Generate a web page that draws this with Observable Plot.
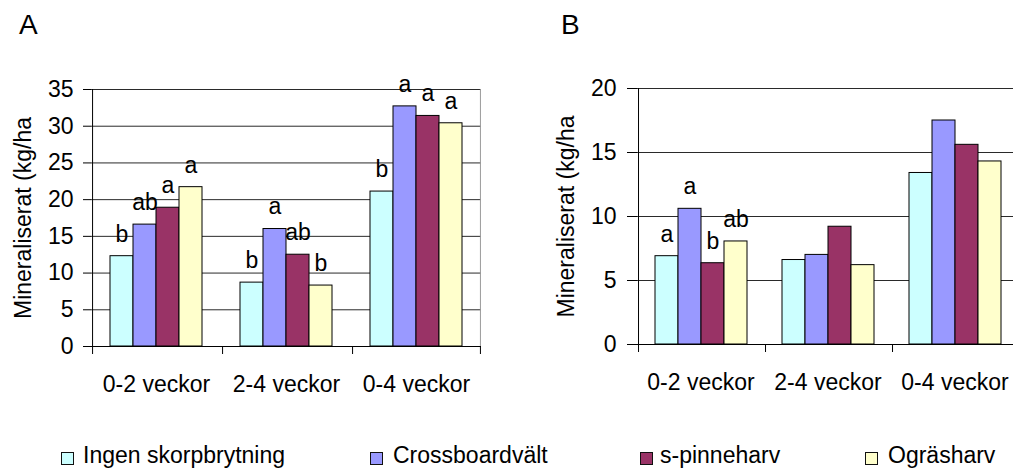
<!DOCTYPE html>
<html>
<head>
<meta charset="utf-8">
<script src="https://cdn.jsdelivr.net/npm/d3@7"></script>
<script src="https://cdn.jsdelivr.net/npm/@observablehq/plot@0.6"></script>
<style>
  html, body { margin: 0; padding: 0; background: #fff; }
  body { width: 1013px; height: 470px; overflow: hidden; position: relative;
         font-family: 'Liberation Sans', Arial, sans-serif; }
  .panel { position: absolute; top: 0; }
  .panel svg { max-width: none !important; display: block; }
  .ptitle { position: relative; height: 44px; }
  .ptitle span { position: absolute; top: 11px; font-size: 28px; line-height: 28px; color: #000; }
  .legend { position: absolute; top: 0; left: 0; width: 1013px; height: 470px; pointer-events: none; }
  .legend .box { position: absolute; top: 452px; width: 11px; height: 11px; border: 1.5px solid #111; }
  .legend .lab { position: absolute; top: 444px; font-size: 23px; line-height: 23px; color: #000; white-space: nowrap; }
</style>
</head>
<body>
<div id="panelA" class="panel" style="left:0px; width:500px"><div class="ptitle"><span style="left:19px">A</span></div></div>
<div id="panelB" class="panel" style="left:500px; width:530px"><div class="ptitle"><span style="left:61px">B</span></div></div>
<div id="legend" class="legend"></div>
<script>
// ---- data ----
const periods = ["0-2 veckor", "2-4 veckor", "0-4 veckor"];
const treatments = ["Ingen skorpbrytning", "Crossboardvält", "s-pinneharv", "Ogräsharv"];
const colors = ["#CCFFFF", "#9999FF", "#993366", "#FFFFCC"];
const yLabel = "Mineraliserat (kg/ha";

const valuesA = [
  [12.3, 16.6, 18.9, 21.7],
  [8.7, 16.0, 12.5, 8.3],
  [21.1, 32.7, 31.4, 30.4]
];
const lettersA = [
  ["b", "ab", "a", "a"],
  ["b", "a", "ab", "b"],
  ["b", "a", "a", "a"]
];
const ticksA = [0, 5, 10, 15, 20, 25, 30, 35];

const valuesB = [
  [6.9, 10.6, 6.35, 8.05],
  [6.6, 7.0, 9.2, 6.2],
  [13.4, 17.5, 15.6, 14.3]
];
const lettersB = [
  ["a", "a", "b", "ab"],
  ["", "", "", ""],
  ["", "", "", ""]
];
const ticksB = [0, 5, 10, 15, 20];

function rowsOf(values, letters) {
  const rows = [];
  periods.forEach((p, i) => treatments.forEach((t, j) => {
    rows.push({period: p, treatment: t, value: values[i][j], letter: letters[i][j]});
  }));
  return rows;
}

function makePanel(cfg) {
  const rows = rowsOf(cfg.values, cfg.letters);
  const ymax = cfg.ticks[cfg.ticks.length - 1];
  const plotH = cfg.height - cfg.mt - cfg.mb;
  const fw = (cfg.width - cfg.ml - cfg.mr) / periods.length;
  const step = fw / (treatments.length + 2 * cfg.po);
  const edge = step * (0.5 + cfg.po);        // band centre -> facet edge (px)
  const tickLen = cfg.tickLenPx * ymax / plotH; // boundary tick length in data units
  const first = [{period: periods[0]}];
  const last = [{period: periods[periods.length - 1]}];
  const all = periods.map(p => ({period: p}));
  return Plot.plot({
    width: cfg.width,
    height: cfg.height,
    marginLeft: cfg.ml,
    marginRight: cfg.mr,
    marginTop: cfg.mt,
    marginBottom: cfg.mb,
    style: {fontFamily: "'Liberation Sans', Arial, sans-serif", fontSize: "23px", color: "#000", background: "transparent", overflow: "visible", maxWidth: "none"},
    fx: {domain: periods, padding: 0, axis: "bottom", tickSize: 0, tickPadding: 29, label: null},
    x: {domain: treatments, paddingInner: 0, paddingOuter: cfg.po, axis: null},
    y: {domain: [0, ymax], ticks: cfg.ticks, tickSize: cfg.tickSize, tickPadding: cfg.tickPadding, label: null, tickFormat: d => String(d)},
    color: {domain: treatments, range: colors},
    marks: [
      Plot.ruleY(cfg.ticks.filter(d => d > 0), {stroke: "#2a2a2a", strokeWidth: 1}),
      Plot.ruleX(last, {fx: "period", x: () => treatments[treatments.length - 1], y1: 0, y2: ymax, dx: edge, stroke: "#9a9a9a"}),
      Plot.barY(rows, {fx: "period", x: "treatment", y: "value", fill: "treatment", stroke: "#000", strokeWidth: 1}),
      Plot.ruleY([0], {stroke: "#000", strokeWidth: 1}),
      Plot.ruleX(first, {fx: "period", x: () => treatments[0], y1: 0, y2: ymax, dx: -edge, stroke: "#000"}),
      Plot.ruleX(all, {fx: "period", x: () => treatments[0], y1: 0, y2: -tickLen, dx: -edge, stroke: "#000"}),
      Plot.ruleX(last, {fx: "period", x: () => treatments[treatments.length - 1], y1: 0, y2: -tickLen, dx: edge, stroke: "#000"}),
      Plot.text(rows.filter(d => d.letter), {fx: "period", x: "treatment", y: "value", text: "letter", dy: -22, fill: "#000"}),
      Plot.text(first, {fx: "period", frameAnchor: "left", text: () => yLabel, rotate: -90, dx: cfg.labelDx, textAnchor: "middle", lineAnchor: "middle", fill: "#000"})
    ]
  });
}

document.getElementById("panelA").appendChild(makePanel({
  values: valuesA, letters: lettersA, ticks: ticksA,
  width: 500, height: 356, ml: 90, mr: 18, mt: 45, mb: 54,
  po: 0.73, tickSize: 8, tickPadding: 10, tickLenPx: 8, labelDx: -68
}));
document.getElementById("panelB").appendChild(makePanel({
  values: valuesB, letters: lettersB, ticks: ticksB,
  width: 530, height: 356, ml: 137, mr: 12, mt: 44, mb: 56,
  po: 0.72, tickSize: 10, tickPadding: 11, tickLenPx: 8, labelDx: -71
}));

// ---- legend ----
const legendBoxX = [61, 370, 640, 865];
const legendTextX = [83, 393, 660, 888];
const legend = document.getElementById("legend");
treatments.forEach((t, i) => {
  const b = document.createElement("div");
  b.className = "box";
  b.style.left = legendBoxX[i] + "px";
  b.style.background = colors[i];
  legend.appendChild(b);
  const l = document.createElement("div");
  l.className = "lab";
  l.style.left = legendTextX[i] + "px";
  l.textContent = t;
  legend.appendChild(l);
});
</script>
</body>
</html>
